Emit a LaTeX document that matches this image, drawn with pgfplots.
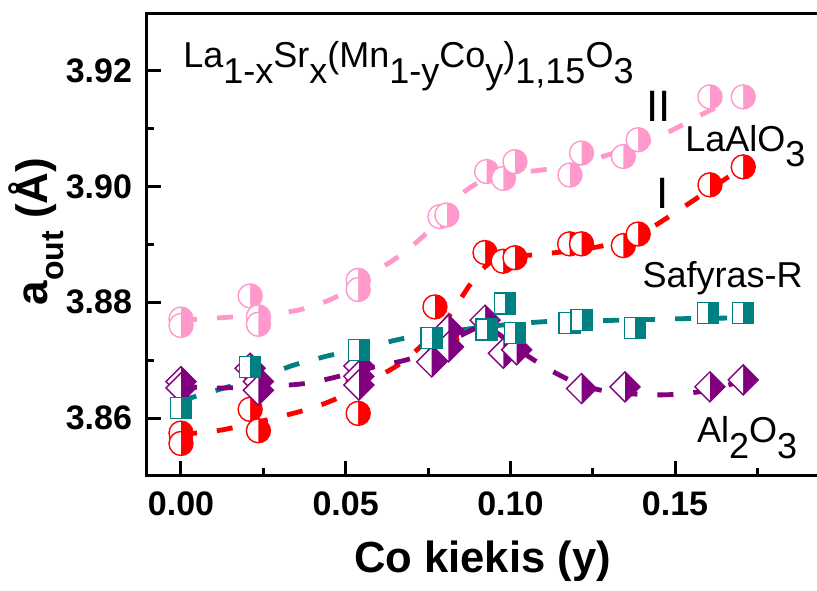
\documentclass[border=0pt]{standalone}
\usepackage{fontspec}
\setmainfont{Liberation Sans}
\usepackage{pgfplots}
\pgfplotsset{compat=1.18}
\definecolor{cpink}{HTML}{FF99CC}
\definecolor{cred}{HTML}{FF0000}
\definecolor{cteal}{HTML}{008080}
\definecolor{cpurp}{HTML}{800080}
\newcommand{\sub}[1]{\raisebox{-0.42em}{#1}}
\pgfdeclareplotmark{hcirc}{%
  \pgfpathcircle{\pgfpointorigin}{\pgfplotmarksize}\pgfusepathqfill
  \begin{pgfscope}\pgfsetfillcolor{white}%
  \pgfpathmoveto{\pgfqpoint{0pt}{\pgfplotmarksize}}%
  \pgfpatharc{90}{270}{\pgfplotmarksize}\pgfpathclose\pgfusepathqfill
  \end{pgfscope}%
  \pgfpathcircle{\pgfpointorigin}{\pgfplotmarksize}\pgfusepathqstroke}
\pgfdeclareplotmark{hsq}{%
  \pgfpathrectangle{\pgfqpoint{-\pgfplotmarksize}{-\pgfplotmarksize}}{\pgfqpoint{2\pgfplotmarksize}{2\pgfplotmarksize}}\pgfusepathqfill
  \begin{pgfscope}\pgfsetfillcolor{white}%
  \pgfpathrectangle{\pgfqpoint{-\pgfplotmarksize}{-\pgfplotmarksize}}{\pgfqpoint{\pgfplotmarksize}{2\pgfplotmarksize}}\pgfusepathqfill
  \end{pgfscope}%
  \pgfpathrectangle{\pgfqpoint{-\pgfplotmarksize}{-\pgfplotmarksize}}{\pgfqpoint{2\pgfplotmarksize}{2\pgfplotmarksize}}\pgfusepathqstroke}
\pgfdeclareplotmark{hdia}{%
  \pgfpathmoveto{\pgfqpoint{0pt}{\pgfplotmarksize}}%
  \pgfpathlineto{\pgfqpoint{\pgfplotmarksize}{0pt}}%
  \pgfpathlineto{\pgfqpoint{0pt}{-\pgfplotmarksize}}%
  \pgfpathlineto{\pgfqpoint{-\pgfplotmarksize}{0pt}}\pgfpathclose\pgfusepathqfill
  \begin{pgfscope}\pgfsetfillcolor{white}%
  \pgfpathmoveto{\pgfqpoint{0pt}{\pgfplotmarksize}}%
  \pgfpathlineto{\pgfqpoint{-\pgfplotmarksize}{0pt}}%
  \pgfpathlineto{\pgfqpoint{0pt}{-\pgfplotmarksize}}\pgfpathclose\pgfusepathqfill
  \end{pgfscope}%
  \pgfpathmoveto{\pgfqpoint{0pt}{\pgfplotmarksize}}%
  \pgfpathlineto{\pgfqpoint{\pgfplotmarksize}{0pt}}%
  \pgfpathlineto{\pgfqpoint{0pt}{-\pgfplotmarksize}}%
  \pgfpathlineto{\pgfqpoint{-\pgfplotmarksize}{0pt}}\pgfpathclose\pgfusepathqstroke}
\begin{document}
\begin{tikzpicture}
\begin{axis}[
  width=335.5pt, height=231pt, scale only axis,
  xmin=-0.01032, xmax=0.1934, ymin=3.85015, ymax=3.9300,
  axis line style={line width=1.5pt},
  tick style={line width=1.5pt, black},
  major tick length=7pt, minor tick length=3.5pt,
  tick align=inside, xtick pos=bottom, ytick pos=left,
  scaled ticks=false,
  xtick={0,0.05,0.1,0.15}, minor xtick={0.025,0.075,0.125,0.175},
  ytick={3.86,3.88,3.90,3.92}, minor ytick={3.87,3.89,3.91},
  xticklabel style={/pgf/number format/fixed, /pgf/number format/fixed zerofill, /pgf/number format/precision=2},
  yticklabel style={/pgf/number format/fixed, /pgf/number format/fixed zerofill, /pgf/number format/precision=2},
  /pgf/number format/assume math mode=true,
  ticklabel style={font=\fontsize{17}{17}\selectfont\bfseries},
  xticklabel shift=5pt, yticklabel shift=4pt,
  xlabel={Co kiekis (y)},
  ylabel={a{\fontsize{16}{16}\selectfont\raisebox{-0.5em}{out}} (Å)},
  xlabel style={font=\fontsize{21.8}{22}\selectfont\bfseries, at={(axis description cs:0.5,-0.212)}, anchor=base},
  ylabel style={font=\fontsize{22}{22}\selectfont\bfseries, at={(axis description cs:-0.149,0.527)}, anchor=base},
]
% fit lines
\addplot[cpink, line width=2.4pt, dash pattern=on 8pt off 10pt, smooth] coordinates {
(0,3.8769) (0.014,3.8774) (0.025,3.8779) (0.036,3.8787) (0.047,3.8809) (0.058,3.8850) (0.066,3.8879) (0.075,3.8922) (0.085,3.8986) (0.093,3.9015) (0.100,3.9024) (0.107,3.9027) (0.118,3.9036) (0.128,3.9052) (0.140,3.9073) (0.150,3.9100) (0.160,3.9130) (0.1707,3.9157)};
\addplot[cred, line width=2.4pt, dash pattern=on 8pt off 10pt, smooth] coordinates {
(0,3.8572) (0.013,3.8580) (0.036,3.8611) (0.047,3.8633) (0.058,3.8666) (0.066,3.8692) (0.073,3.8725) (0.0816,3.8778) (0.0877,3.8830) (0.093,3.8865) (0.098,3.8878) (0.107,3.8882) (0.120,3.8890) (0.129,3.8899) (0.140,3.8920) (0.150,3.8955) (0.160,3.8993) (0.1707,3.9034)};
\addplot[cteal, line width=2.4pt, dash pattern=on 8pt off 10pt, smooth] coordinates {
(0,3.8630) (0.012,3.8650) (0.025,3.8672) (0.034,3.8691) (0.045,3.8708) (0.056,3.8722) (0.068,3.8738) (0.080,3.8748) (0.090,3.8756) (0.100,3.8762) (0.112,3.8767) (0.125,3.8768) (0.140,3.8770) (0.155,3.8772) (0.1707,3.8773)};
\addplot[cpurp, line width=2.4pt, dash pattern=on 8pt off 10pt, smooth] coordinates {
(0,3.8655) (0.013,3.8652) (0.035,3.8658) (0.045,3.8668) (0.057,3.8686) (0.070,3.8703) (0.080,3.8728) (0.090,3.8756) (0.0945,3.8752) (0.100,3.8730) (0.104,3.8712) (0.113,3.8680) (0.122,3.8656) (0.132,3.8644) (0.146,3.8640) (0.157,3.8645) (0.165,3.8655) (0.172,3.8668)};
% data points
\addplot[only marks, color=cpink, mark=hcirc, mark size=6pt, mark options={solid, line width=0.7pt, fill=cpink}] coordinates {
(0,3.8771) (0,3.8760) (0.021,3.8811) (0.0235,3.8775) (0.0235,3.8762) (0.0538,3.8838) (0.0538,3.8822) (0.0786,3.8948) (0.0807,3.8951) (0.0928,3.9026) (0.0979,3.9014) (0.1014,3.9043) (0.1181,3.9020) (0.1216,3.9058) (0.1343,3.9052) (0.1388,3.9081) (0.1606,3.9155) (0.1707,3.9155)};
\addplot[only marks, color=cred, mark=hcirc, mark size=6pt, mark options={solid, line width=0.7pt, fill=cred}] coordinates {
(0,3.8574) (0,3.8556) (0.021,3.8615) (0.0235,3.8578) (0.0538,3.8608) (0.0538,3.8665) (0.0771,3.8792) (0.0807,3.8735) (0.0923,3.8886) (0.0978,3.8871) (0.1014,3.8877) (0.1180,3.8901) (0.1216,3.8901) (0.1343,3.8898) (0.1388,3.8918) (0.1606,3.9003) (0.1707,3.9034)};
\addplot[only marks, color=cpurp, mark=hdia, mark size=7.5pt, mark options={solid, line width=0.7pt, fill=cpurp}] coordinates {
(0,3.8663) (0,3.8652) (0.021,3.8686) (0.0235,3.8663) (0.0235,3.8648) (0.054,3.8690) (0.054,3.8672) (0.054,3.8657) (0.0761,3.8697) (0.0812,3.8752) (0.0812,3.8723) (0.0923,3.8769) (0.0979,3.8712) (0.1019,3.8718) (0.1216,3.8651) (0.1348,3.8654) (0.1606,3.8654) (0.1707,3.8666)};
\addplot[only marks, color=cteal, mark=hsq, mark size=5.25pt, mark options={solid, line width=0.7pt, fill=cteal}] coordinates {
(0,3.8617) (0.021,3.8688) (0.0541,3.8718) (0.0761,3.8738) (0.0928,3.8753) (0.0984,3.8798) (0.1014,3.8747) (0.1180,3.8764) (0.1216,3.8769) (0.1378,3.8756) (0.1600,3.8781) (0.1707,3.8781)};
% annotations
\node[anchor=base west, font=\fontsize{18}{18}\selectfont, inner sep=0pt] at (axis cs:0.0006,3.9205) {La\sub{1-x}Sr\sub{x}(Mn\sub{1-y}Co\sub{y})\sub{1,15}O\sub{3}};
\node[font=\fontsize{22}{22}\selectfont, inner sep=0pt] at (axis cs:0.1451,3.9139) {II};
\node[font=\fontsize{22}{22}\selectfont, inner sep=0pt] at (axis cs:0.1463,3.8989) {I};
\node[anchor=base west, font=\fontsize{18}{18}\selectfont, inner sep=0pt] at (axis cs:0.1530,3.9060) {LaAlO\sub{3}};
\node[anchor=base west, font=\fontsize{18}{18}\selectfont, inner sep=0pt] at (axis cs:0.1400,3.8826) {Safyras-R};
\node[anchor=base west, font=\fontsize{18}{18}\selectfont, inner sep=0pt] at (axis cs:0.1566,3.8557) {Al\sub{2}O\sub{3}};
\end{axis}
\pgfresetboundingbox
\useasboundingbox ([xshift=-73.5pt,yshift=-57.5pt]current axis.south west) rectangle ([xshift=-0.5pt,yshift=6.5pt]current axis.north east);
\end{tikzpicture}
\end{document}
